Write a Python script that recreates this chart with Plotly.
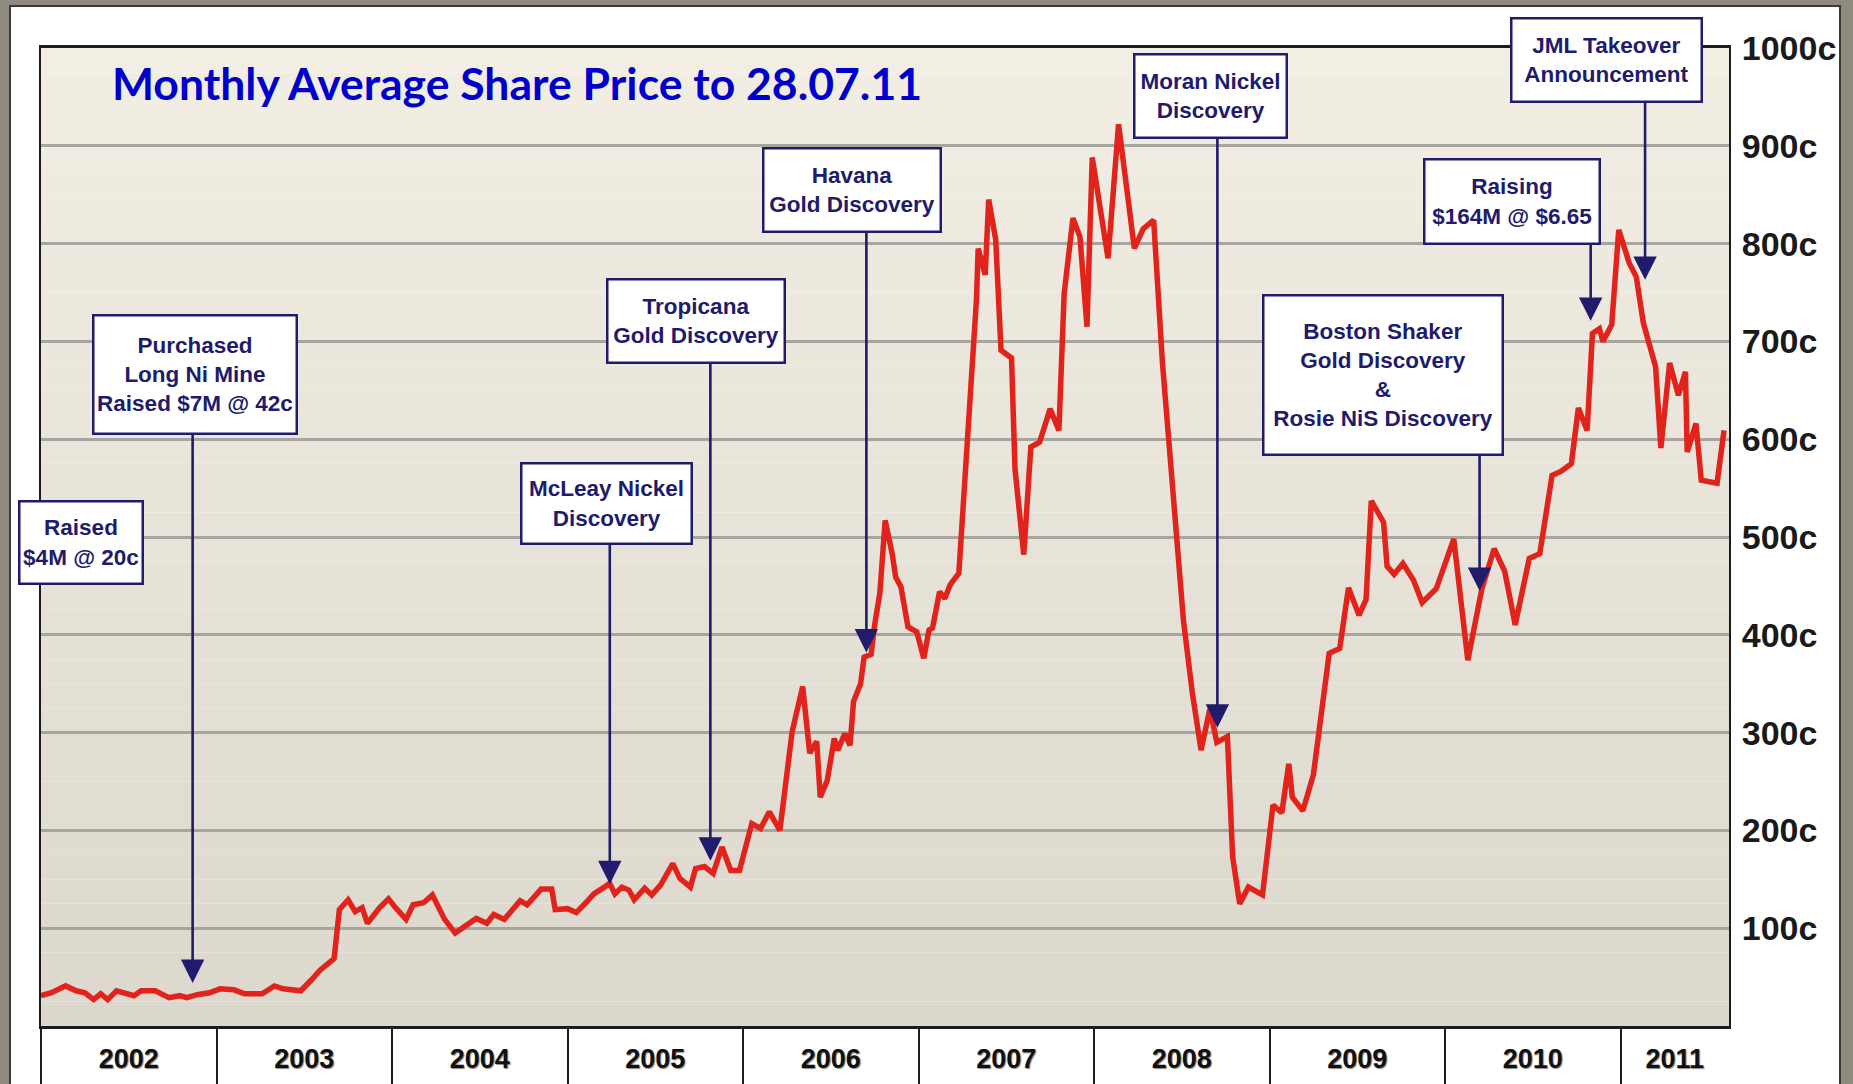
import plotly.graph_objects as go

# ---------------- data ----------------
t_years = [
    2002.00, 2002.06, 2002.14, 2002.20, 2002.25, 2002.30, 2002.34, 2002.38, 2002.43, 2002.48,
    2002.53, 2002.57, 2002.65, 2002.73, 2002.79, 2002.83, 2002.89, 2002.96, 2003.02, 2003.10,
    2003.16, 2003.26, 2003.33, 2003.38, 2003.48, 2003.54, 2003.59, 2003.67, 2003.70, 2003.75,
    2003.79, 2003.83, 2003.86, 2003.93, 2003.98, 2004.02, 2004.08, 2004.12, 2004.18, 2004.23,
    2004.30, 2004.36, 2004.40, 2004.48, 2004.54, 2004.58, 2004.64, 2004.73, 2004.77, 2004.85,
    2004.91, 2004.93, 2005.00, 2005.05, 2005.11, 2005.15, 2005.21, 2005.24, 2005.27, 2005.31,
    2005.35, 2005.38, 2005.44, 2005.48, 2005.53, 2005.60, 2005.64, 2005.70, 2005.73, 2005.78,
    2005.83, 2005.88, 2005.93, 2005.98, 2006.05, 2006.10, 2006.15, 2006.21, 2006.28, 2006.34,
    2006.38, 2006.42, 2006.44, 2006.48, 2006.52, 2006.54, 2006.58, 2006.61, 2006.63, 2006.67,
    2006.69, 2006.73, 2006.75, 2006.78, 2006.81, 2006.85, 2006.87, 2006.90, 2006.94, 2006.99,
    2007.03, 2007.06, 2007.08, 2007.12, 2007.15, 2007.18, 2007.23, 2007.26, 2007.29, 2007.33,
    2007.34, 2007.38, 2007.40, 2007.44, 2007.47, 2007.53, 2007.55, 2007.60, 2007.64, 2007.69,
    2007.75, 2007.80, 2007.83, 2007.88, 2007.92, 2007.96, 2007.99, 2008.08, 2008.14, 2008.23,
    2008.28, 2008.34, 2008.39, 2008.45, 2008.51, 2008.56, 2008.61, 2008.66, 2008.70, 2008.76,
    2008.79, 2008.83, 2008.88, 2008.96, 2009.02, 2009.07, 2009.11, 2009.13, 2009.19, 2009.25,
    2009.30, 2009.34, 2009.40, 2009.45, 2009.51, 2009.55, 2009.58, 2009.65, 2009.67, 2009.71,
    2009.76, 2009.82, 2009.87, 2009.95, 2010.05, 2010.13, 2010.21, 2010.28, 2010.34, 2010.40,
    2010.48, 2010.54, 2010.61, 2010.66, 2010.72, 2010.76, 2010.81, 2010.84, 2010.88, 2010.90,
    2010.95, 2010.99, 2011.05, 2011.09, 2011.13, 2011.20, 2011.23, 2011.28, 2011.33, 2011.37,
    2011.38, 2011.43, 2011.46, 2011.55, 2011.59,
]
price_c = [
    31, 34, 41, 36, 34, 27, 33, 27, 36, 34,
    31, 36, 36, 29, 31, 29, 32, 34, 38, 37,
    33, 33, 41, 38, 36, 47, 57, 69, 119, 129,
    117, 121, 105, 121, 130, 121, 109, 124, 126, 134,
    109, 95, 100, 110, 105, 114, 109, 128, 124, 140,
    140, 119, 120, 116, 127, 135, 142, 146, 135, 142,
    139, 129, 141, 134, 144, 166, 151, 142, 161, 163,
    156, 183, 159, 159, 207, 202, 219, 200, 301, 347,
    279, 291, 234, 251, 294, 282, 299, 287, 332, 350,
    377, 380, 410, 443, 517, 483, 459, 449, 408, 403,
    376, 405, 407, 444, 437, 451, 463, 545, 647, 742,
    795, 768, 845, 804, 691, 683, 569, 482, 592, 597,
    631, 609, 749, 826, 807, 715, 888, 785, 922, 795,
    815, 824, 678, 543, 414, 341, 282, 324, 290, 296,
    173, 125, 142, 134, 226, 218, 268, 234, 220, 257,
    330, 381, 386, 448, 420, 436, 537, 515, 470, 462,
    473, 456, 433, 447, 498, 374, 447, 488, 465, 410,
    478, 483, 563, 567, 575, 632, 609, 708, 713, 700,
    717, 814, 780, 766, 719, 674, 591, 678, 645, 669,
    587, 616, 558, 555, 609,
]

years = [2002, 2003, 2004, 2005, 2006, 2007, 2008, 2009, 2010, 2011]
year_labels = ["2002", "2003", "2004", "2005", "2006", "2007", "2008", "2009", "2010", "2011"]
y_ticks = [100, 200, 300, 400, 500, 600, 700, 800, 900, 1000]
y_ticktext = ["100c", "200c", "300c", "400c", "500c", "600c", "700c", "800c", "900c", "1000c"]

event_text = [
    "Raised<br>$4M @ 20c",
    "Purchased<br>Long Ni Mine<br>Raised $7M @ 42c",
    "McLeay Nickel<br>Discovery",
    "Tropicana<br>Gold Discovery",
    "Havana<br>Gold Discovery",
    "Moran Nickel<br>Discovery",
    "JML Takeover<br>Announcement",
    "Raising<br>$164M @ $6.65",
    "Boston Shaker<br>Gold Discovery<br>&<br>Rosie NiS Discovery",
]
event_t = [2001.995, 2002.864, 2005.241, 2005.814, 2006.703, 2008.703, 2011.14, 2010.83, 2010.197]
event_price = [40, 44, 145, 169, 382, 305, 763, 721, 445]

title_text = "Monthly Average Share Price to 28.07.11"

# ---------------- layout geometry (pixels) ----------------
W, H = 1853, 1084
PL, PR, PT, PB = 41, 1729, 48, 1026
X0, X1 = 2002.0, 2002.0 + (PR - PL) / 175.5
Y0, Y1 = 0, 1000

def py2v(py):
    return Y0 + (PB - py) / (PB - PT) * (Y1 - Y0)

def pxp(px):
    return (px - PL) / (PR - PL)

def pyp(py):
    return (PB - py) / (PB - PT)

# label boxes: x0, y0, x1, y1 in pixels
boxes = [
    (18, 500, 144, 585),
    (92, 314, 298, 435),
    (520, 462, 693, 545),
    (606, 278, 786, 364),
    (762, 147, 942, 233),
    (1133, 53, 1288, 139),
    (1510, 17, 1703, 103),
    (1423, 158, 1601, 245),
    (1262, 294, 1504, 456),
]

BOXFONT = "Liberation Sans, Arial, sans-serif"
NAVY = "#201b6c"

fig = go.Figure()

fig.add_trace(go.Scatter(
    x=t_years, y=price_c, mode="lines",
    line=dict(color="#e1231c", width=5.5),
    hoverinfo="skip", showlegend=False,
))

shapes = []
# outer frame: white panel with dark edge on gray paper
shapes.append(dict(type="rect", xref="paper", yref="paper", layer="below",
                   x0=pxp(10), x1=pxp(1840), y0=pyp(1090), y1=pyp(6),
                   fillcolor="white", line=dict(color="#3a3a36", width=2)))
# plot background gradient (bands)
top_c = (243, 238, 228)
bot_c = (220, 216, 206)
NB = 40
for k in range(NB):
    f = k / (NB - 1)
    c = tuple(round(top_c[j] + (bot_c[j] - top_c[j]) * f) for j in range(3))
    shapes.append(dict(type="rect", xref="paper", yref="paper", layer="below",
                       x0=0, x1=1, y0=1 - (k + 1) / NB, y1=1 - k / NB,
                       fillcolor="rgb(%d,%d,%d)" % c, line=dict(width=0)))

annotations = []
# arrows (drawn first so that boxes cover their start)
for (bx0, by0, bx1, by1), et, ep in zip(boxes, event_t, event_price):
    annotations.append(dict(
        x=et, y=ep, xref="x", yref="y",
        ax=et, ay=py2v(by1 - 4), axref="x", ayref="y",
        text=" ", font=dict(size=1), showarrow=True,
        arrowhead=2, arrowsize=1.8, arrowwidth=2.6, arrowcolor=NAVY,
        standoff=0, startstandoff=0,
    ))
# label boxes
BW = 2.5
for (bx0, by0, bx1, by1), txt in zip(boxes, event_text):
    annotations.append(dict(
        x=pxp((bx0 + bx1) / 2), y=pyp((by0 + by1) / 2), xref="paper", yref="paper",
        xanchor="center", yanchor="middle", text=txt, showarrow=False,
        font=dict(family=BOXFONT, size=22.5, color=NAVY, weight="bold"),
        align="center", valign="middle",
        bgcolor="white", bordercolor=NAVY, borderwidth=BW, borderpad=0,
        width=(bx1 - bx0) - 2 * BW, height=(by1 - by0) - 2 * BW,
    ))
# title
annotations.append(dict(
    x=pxp(110), y=pyp(83), xref="paper", yref="paper",
    xanchor="left", yanchor="middle", text=title_text, showarrow=False,
    font=dict(family="Lato, Open Sans, sans-serif", size=44.5, color="#0000cc", weight="bold"),
))

# year label positions: centre of each (possibly partial) year band
label_pos = [(y + min(y + 1, X1)) / 2 for y in years]

fig.update_layout(
    width=W, height=H,
    margin=dict(l=PL, r=W - PR, t=PT, b=H - PB, pad=0, autoexpand=False),
    paper_bgcolor="#8f8b7e",
    plot_bgcolor="rgba(0,0,0,0)",
    shapes=shapes,
    annotations=annotations,
    showlegend=False,
    xaxis=dict(
        range=[X0, X1], showgrid=False, zeroline=False, automargin=False,
        tickmode="array", tickvals=label_pos, ticktext=year_labels, ticks="",
        tickfont=dict(family="Liberation Sans, Arial, sans-serif", size=27, color="#111111",
                      weight="bold", shadow="1px 1px 1px #888"),
        ticklabelstandoff=7,
        showline=True, linecolor="#1c1c1c", linewidth=3, mirror=True,
        minor=dict(tickmode="array", tickvals=years, ticks="outside", ticklen=62,
                   tickcolor="#1c1c1c", tickwidth=1.5, showgrid=False),
        fixedrange=True,
    ),
    yaxis=dict(
        range=[Y0, Y1], side="right", zeroline=False, automargin=False,
        tickmode="array", tickvals=y_ticks, ticktext=y_ticktext, ticks="",
        tickfont=dict(family="Liberation Sans, Arial, sans-serif", size=34, color="#1a1a1a", weight="bold"),
        ticklabelstandoff=4,
        showgrid=True, gridcolor="#a7a59f", gridwidth=2.5,
        showline=True, linecolor="#1c1c1c", linewidth=2, mirror=True,
        fixedrange=True,
    ),
)

fig.write_html(
    "out.html",
    config={"displayModeBar": False},
    post_script="document.body.style.margin='0';document.body.style.overflow='hidden';",
)
